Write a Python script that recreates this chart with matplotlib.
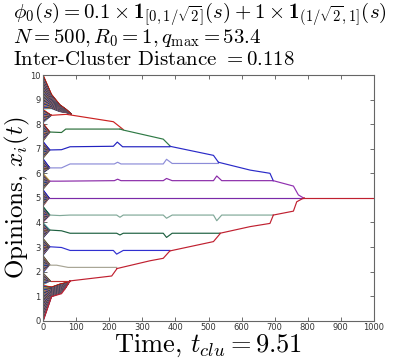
import numpy as np
import matplotlib
matplotlib.use('Agg')
import matplotlib.pyplot as plt
from matplotlib.collections import LineCollection

plt.rcParams['mathtext.fontset'] = 'custom'
plt.rcParams['mathtext.rm'] = 'cmr10'
plt.rcParams['mathtext.it'] = 'cmmi10'
plt.rcParams['mathtext.bf'] = 'cmb10'
plt.rcParams['mathtext.cal'] = 'cmsy10'
plt.rcParams['mathtext.fallback'] = 'cm'

N = 500
x_ticks = list(range(0, 1001, 100))
y_ticks = list(range(0, 11))

title_lines = [r'$\phi_0(s) = 0.1 \times \mathbf{1}_{[0,1/\sqrt{2}]}(s) + 1 \times \mathbf{1}_{(1/\sqrt{2},1]}(s)$',
               r'$N = 500, R_0 = 1, q_{\max} = 53.4$',
               r'Inter-Cluster Distance $= 0.118$']
xlabel = r'Time, $t_{clu} = 9.51$'
ylabel = r'Opinions, $x_i(t)$'

# --- early fans: initial opinion range of each basin and the cluster it collapses to
fan_lo = [1.45, 1.95, 2.65, 3.35, 4.00, 4.65, 5.35, 6.00, 6.60, 7.30, 8.05]
fan_hi = [1.95, 2.65, 3.35, 4.00, 4.65, 5.35, 6.00, 6.60, 7.30, 8.05, 8.60]
fan_target = [1.62, 2.28, 3.01, 3.69, 4.30, 5.00, 5.68, 6.22, 6.95, 7.68, 8.36]
fan_tc = [22, 20, 20, 20, 20, 18, 20, 20, 20, 20, 25]

# top band (agents from 8.6..10) and bottom band (0..1.45): band edges over time
top_t = [0, 25, 50, 70, 86]
top_lo = [8.60, 8.62, 8.50, 8.46, 8.40]
top_hi = [10.0, 9.22, 8.80, 8.60, 8.40]
bot_t = [0, 25, 50, 66, 81]
bot_lo = [0.00, 0.98, 1.10, 1.30, 1.62]
bot_hi = [1.45, 1.38, 1.50, 1.55, 1.62]

# --- cluster trajectories (time, opinion), upper half
A_t = [25, 70, 212, 242];                       A_x = [8.36, 8.40, 8.10, 7.78]
B_t = [20, 55, 68, 232];                        B_x = [7.68, 7.66, 7.80, 7.80]
AB_t = [232, 242, 363, 383];                    AB_x = [7.80, 7.76, 7.39, 7.12]
C_t = [20, 55, 81, 212, 224, 240, 383];         C_x = [6.95, 6.96, 7.08, 7.10, 7.27, 7.08, 7.08]
ABC_t = [383, 515, 530];                        ABC_x = [7.10, 6.73, 6.45]
D_t = [20, 55, 81, 215, 225, 235, 363, 373, 390, 530]
D_x = [6.22, 6.22, 6.38, 6.38, 6.45, 6.38, 6.38, 6.57, 6.40, 6.40]
ABCD_t = [530, 626, 686, 696];                  ABCD_x = [6.45, 6.13, 6.00, 5.70]
E_t = [20, 50, 215, 225, 235, 363, 373, 390, 515, 525, 540, 696]
E_x = [5.68, 5.68, 5.70, 5.76, 5.70, 5.70, 5.79, 5.70, 5.70, 5.89, 5.70, 5.70]
ABCDE_t = [696, 757, 772, 787];                 ABCDE_x = [5.70, 5.48, 5.12, 5.00]
F_t = [18, 787];                                F_x = [5.00, 5.00]
# lower half
Ep_t = [20, 50, 81, 222, 232, 242, 363, 373, 390, 515, 525, 540, 696]
Ep_x = [4.30, 4.28, 4.30, 4.30, 4.21, 4.30, 4.30, 4.17, 4.30, 4.30, 4.07, 4.30, 4.30]
Dp_t = [20, 55, 81, 222, 232, 242, 363, 373, 390, 535]
Dp_x = [3.69, 3.66, 3.56, 3.56, 3.49, 3.56, 3.56, 3.39, 3.56, 3.56]
Cp_t = [20, 55, 81, 212, 222, 242, 383];        Cp_x = [3.01, 2.98, 2.86, 2.86, 2.71, 2.86, 2.86]
Bp_t = [20, 40, 75, 222];                       Bp_x = [2.26, 2.26, 2.17, 2.17]
App_t = [22, 81];                               App_x = [1.62, 1.62]
Ap_t = [0, 25, 55, 66, 81, 207, 222];           Ap_x = [0.00, 0.98, 1.10, 1.30, 1.62, 1.82, 2.10]
ApBp_t = [222, 323, 363, 383];                  ApBp_x = [2.12, 2.44, 2.54, 2.84]
ApBpCp_t = [383, 515, 535];                     ApBpCp_x = [2.84, 3.22, 3.54]
ApBpCpDp_t = [535, 626, 686, 696];              ApBpCpDp_x = [3.56, 3.83, 3.96, 4.29]
lowAll_t = [696, 757, 767, 782, 790];           lowAll_x = [4.30, 4.46, 4.84, 4.95, 5.00]
final_t = [787, 1000];                          final_x = [5.00, 5.00]

cluster_paths = [
    (F_t, F_x, '#7a2aa8'),
    (A_t, A_x, '#cc2222'), (B_t, B_x, '#2a6e3a'), (AB_t, AB_x, '#2f7a45'),
    (C_t, C_x, '#2222c0'), (D_t, D_x, '#8c8cd8'), (ABC_t, ABC_x, '#2a2ac8'),
    (E_t, E_x, '#8a2aa8'), (ABCD_t, ABCD_x, '#2a2ac8'), (ABCDE_t, ABCDE_x, '#9030b0'),
    (Ep_t, Ep_x, '#80a898'), (Dp_t, Dp_x, '#1e6040'), (Cp_t, Cp_x, '#3030d0'),
    (Bp_t, Bp_x, '#a8a595'), (App_t, App_x, '#c03030'), (Ap_t, Ap_x, '#c02030'),
    (ApBp_t, ApBp_x, '#c02030'), (ApBpCp_t, ApBpCp_x, '#c02030'),
    (ApBpCpDp_t, ApBpCpDp_x, '#c02030'), (lowAll_t, lowAll_x, '#c02030'),
    (final_t, final_x, '#c02030'),
]

agent_colors = ['#0000ff', '#008000', '#ff0000', '#00bfbf', '#bf00bf', '#bfbf00', '#404040']

fig = plt.figure(figsize=(4.07, 3.61), dpi=100)
ax = fig.add_axes([0.1064, 0.1116, 0.8118, 0.6806])

segs, cols = [], []
k = 0
x0_all = np.linspace(0, 10, N)
for x0 in x0_all:
    if x0 >= top_lo[0]:
        f = (x0 - top_lo[0]) / (top_hi[0] - top_lo[0])
        pts = [(t, lo + f * (hi - lo)) for t, lo, hi in zip(top_t, top_lo, top_hi)]
    elif x0 < bot_hi[0]:
        f = (x0 - bot_lo[0]) / (bot_hi[0] - bot_lo[0])
        pts = [(t, lo + f * (hi - lo)) for t, lo, hi in zip(bot_t, bot_lo, bot_hi)]
    else:
        j = [i for i in range(len(fan_lo)) if fan_lo[i] <= x0 < fan_hi[i]][0]
        pts = [(0, x0), (fan_tc[j], fan_target[j])]
    segs.append(pts)
    cols.append(agent_colors[k % len(agent_colors)])
    k += 1
ax.add_collection(LineCollection(segs, colors=cols, linewidths=0.5))

for t, x, c in cluster_paths:
    ax.plot(t, x, color=c, lw=0.85, solid_joinstyle='round')

ax.set_xlim(0, 1000)
ax.set_ylim(0, 10)
ax.set_xticks(x_ticks)
ax.set_yticks(y_ticks)
ax.tick_params(direction='in', length=3, width=0.6, colors='#555555', labelsize=6,
               labelcolor='#333333', top=True, right=True, pad=2)
for s in ax.spines.values():
    s.set_color('#666666')
    s.set_linewidth(0.8)

ax.set_xlabel(xlabel, family='cmr10', fontsize=19, labelpad=0)
fig.text(0.042, 0.452, ylabel, family='cmr10', fontsize=18, rotation=90,
         ha='center', va='center')

base_y = [0.947, 0.881, 0.820]
for s, y in zip(title_lines, base_y):
    fig.text(0.033, y, s, family='cmr10', fontsize=15, va='baseline', ha='left')

fig.savefig('out.png', dpi=100)
